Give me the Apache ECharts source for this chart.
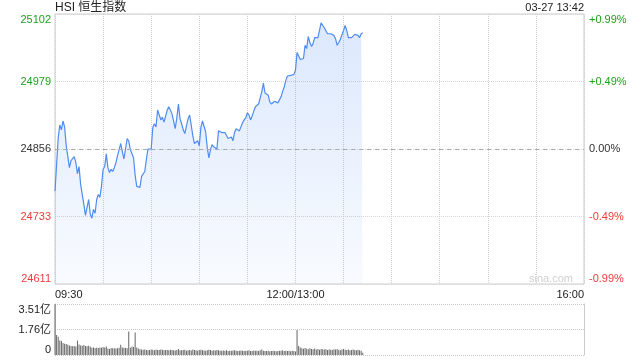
<!DOCTYPE html>
<html><head><meta charset="utf-8">
<script src="https://cdn.jsdelivr.net/npm/echarts@6/dist/echarts.min.js"></script>
<style>html,body{margin:0;padding:0;background:#fff}#c{width:640px;height:360px}</style>
</head><body><div id="c"></div>
<script>
// Minutes since 09:30 (12:00 and 13:00 share minute 150), HK trading day = 330 minutes
const prevClose = 24856;
const prices = [
24779,24828,24876,24900,24891,24907,24896,24862,24864,24822,
24835,24835,24842,24831,24811,24824,24791,24773,24755,24735,
24732,24764,24737,24730,24746,24739,24764,24773,24768,24788,
24819,24824,24847,24822,24813,24819,24815,24822,24831,24844,
24855,24866,24851,24838,24856,24875,24871,24855,24853,24840,
24808,24788,24786,24786,24806,24809,24815,24837,24856,24858,
24856,24895,24902,24896,24927,24927,24909,24914,24905,24916,
24927,24933,24931,24920,24907,24893,24913,24938,24911,24902,
24891,24884,24898,24911,24918,24916,24880,24866,24869,24871,
24862,24895,24907,24909,24887,24858,24840,24855,24864,24860,
24858,24856,24889,24886,24886,24886,24886,24886,24875,24878,
24878,24871,24886,24893,24891,24889,24891,24904,24909,24913,
24922,24918,24909,24916,24925,24933,24936,24938,24940,24960,
24976,24958,24961,24954,24942,24938,24936,24943,24942,24940,
24940,24951,24961,24969,24981,24989,24989,24990,24990,24992,
24999,25032,25030,25019,25019,25021,25045,25039,25061,25050,
25043,25048,25059,25056,25059,25072,25086,25086,25077,25074,
25066,25063,25066,25066,25063,25057,25045,25050,25056,25057,
25072,25081,25072,25059,25056,25059,25061,25065,25065,25063,
25059,25066,25068];
const volumes = [
3.51,1.38,1.26,1.00,0.97,0.82,0.78,0.76,0.70,0.66,
0.62,0.60,0.62,0.58,1.00,0.72,0.66,0.64,0.68,0.62,
0.60,0.64,0.56,0.50,0.52,0.49,0.50,0.48,0.52,0.50,
0.55,0.52,0.58,0.45,0.42,0.48,0.46,0.47,0.45,0.46,
0.50,0.70,0.52,0.50,0.48,0.47,1.62,0.50,0.58,0.55,
1.54,0.52,0.45,0.40,0.38,0.36,0.38,0.34,0.32,0.35,
0.38,0.36,0.33,0.37,0.35,0.34,0.38,0.36,0.33,0.35,
0.34,0.32,0.36,0.35,0.33,0.31,0.34,0.42,0.33,0.32,
0.35,0.36,0.30,0.33,0.34,0.31,0.38,0.35,0.33,0.30,
0.34,0.36,0.32,0.31,0.29,0.33,0.36,0.34,0.30,0.32,
0.31,0.35,0.33,0.30,0.29,0.31,0.30,0.32,0.28,0.30,
0.29,0.31,0.33,0.30,0.28,0.29,0.31,0.30,0.27,0.29,
0.30,0.32,0.28,0.27,0.31,0.29,0.30,0.28,0.33,0.38,
0.30,0.28,0.27,0.29,0.26,0.28,0.30,0.27,0.25,0.28,
0.29,0.30,0.33,0.28,0.30,0.27,0.29,0.26,0.30,0.28,
0.24,1.72,0.62,0.52,0.46,0.43,0.48,0.43,0.40,0.47,
0.42,0.40,0.44,0.38,0.41,0.36,0.42,0.39,0.37,0.40,
0.35,0.38,0.36,0.34,0.40,0.37,0.42,0.35,0.33,0.38,
0.41,0.36,0.34,0.37,0.33,0.35,0.38,0.34,0.32,0.36,
0.33,0.30,0.15];
const priceTicks = ['24611','24733','24856','24979','25102'];
const pctTicks = ['-0.99%','-0.49%','0.00%','+0.49%','+0.99%'];
const volTicks = ['0','1.76亿','3.51亿'];
const timeTickMinutes = [0,150,330];
const timeTicks = ['09:30','12:00/13:00','16:00'];
const titleText = 'HSI 恒生指数';
const dateText = '03-27 13:42';

const FONT = '"Liberation Sans", Arial, "Noto Sans CJK SC", sans-serif';
const GREEN = '#1f9f1f', RED = '#f03a3a', TXT = '#333';
const STEP = 123, HALF = 246;

function richFor(){
  return {
    up:{color:GREEN,fontSize:11,fontFamily:FONT},
    dn:{color:RED,fontSize:11,fontFamily:FONT},
    eq:{color:TXT,fontSize:11,fontFamily:FONT}
  };
}
function tickIdx(v){return Math.round(v/STEP)+2;}
function styled(i,list){
  const s = i>2?'up':(i<2?'dn':'eq');
  return '{'+s+'|'+list[i]+'}';
}

const chart = echarts.init(document.getElementById('c'));
chart.setOption({
  animation:false,
  backgroundColor:'#fff',
  textStyle:{fontFamily:FONT},
  title:[
    {text:titleText,left:55,top:2,padding:0,textStyle:{fontSize:12,fontWeight:'normal',color:'#222',fontFamily:FONT}},
    {text:dateText,right:56,top:2,padding:0,textStyle:{fontSize:11,fontWeight:'normal',color:'#222',fontFamily:FONT}}
  ],
  graphic:[
    {type:'text',right:67,top:273,style:{text:'sina.com',fill:'#cfcfcf',font:'11px '+FONT}}
  ],
  grid:[
    {left:55,right:56,top:14,height:270,show:true,borderColor:'#cccccc',borderWidth:1,backgroundColor:'transparent'},
    {left:55,right:56,top:304,height:51}
  ],
  xAxis:[
    {gridIndex:0,type:'value',min:0,max:330,interval:30,
     axisLine:{show:false},axisTick:{show:false},
     splitLine:{show:true,lineStyle:{type:'dotted',color:'#cfcfcf',width:1}},
     axisLabel:{show:true,showMinLabel:true,showMaxLabel:true,alignMinLabel:'left',alignMaxLabel:'right',
       margin:5,fontSize:11,color:'#222',fontFamily:FONT,
       formatter:function(v){const k=timeTickMinutes.indexOf(Math.round(v));return k>=0?timeTicks[k]:'';}}},
    {gridIndex:1,type:'value',min:0,max:330,interval:30,
     axisLine:{show:false},axisTick:{show:false},splitLine:{show:false},axisLabel:{show:false}}
  ],
  yAxis:[
    {gridIndex:0,type:'value',min:-HALF,max:HALF,interval:STEP,
     axisLine:{show:false},axisTick:{show:false},
     splitLine:{show:true,lineStyle:{type:'dotted',color:'#d6d6d6'}},
     axisLabel:{margin:4,showMinLabel:true,showMaxLabel:true,
       verticalAlignMinLabel:'bottom',verticalAlignMaxLabel:'top',
       formatter:function(v){return styled(tickIdx(v),priceTicks);},rich:richFor()}},
    {gridIndex:0,type:'value',position:'right',min:-HALF,max:HALF,interval:STEP,
     axisLine:{show:false},axisTick:{show:false},splitLine:{show:false},
     axisLabel:{margin:5,showMinLabel:true,showMaxLabel:true,
       verticalAlignMinLabel:'bottom',verticalAlignMaxLabel:'top',
       formatter:function(v){return styled(tickIdx(v),pctTicks);},rich:richFor()}},
    {gridIndex:1,type:'value',min:0,max:3.51,interval:1.755,
     axisLine:{show:true,lineStyle:{color:'#cccccc'}},axisTick:{show:false},
     splitLine:{show:true,lineStyle:{type:'dotted',color:'#c8c8c8'}},
     axisLabel:{margin:4,fontSize:11,color:'#222',fontFamily:FONT,showMinLabel:true,showMaxLabel:true,
       verticalAlignMinLabel:'bottom',verticalAlignMaxLabel:'top',
       formatter:function(v){return volTicks[Math.round(v/1.755)];}}},
    {gridIndex:1,type:'value',position:'right',min:0,max:3.51,interval:1.755,
     axisLine:{show:true,lineStyle:{color:'#cccccc'}},axisTick:{show:false},
     splitLine:{show:false},axisLabel:{show:false}}
  ],
  series:[
    {type:'line',xAxisIndex:0,yAxisIndex:0,
     data:prices.map(function(p,i){return [i,p-prevClose];}),
     showSymbol:false,symbol:'none',smooth:false,
     lineStyle:{color:'#4f8cf0',width:1.2},
     areaStyle:{origin:'start',color:new echarts.graphic.LinearGradient(0,0,0,1,[
       {offset:0,color:'rgba(74,138,244,0.28)'},{offset:1,color:'rgba(74,138,244,0.05)'}])},
     markLine:{silent:true,symbol:'none',label:{show:false},
       lineStyle:{type:[4,4],color:'#aaaaaa',width:1},data:[{yAxis:0}]}},
    {type:'bar',xAxisIndex:1,yAxisIndex:2,
     data:volumes.map(function(v,i){return [i,v];}),
     barWidth:1,itemStyle:{color:'#666666'}}
  ]
});
</script></body></html>
